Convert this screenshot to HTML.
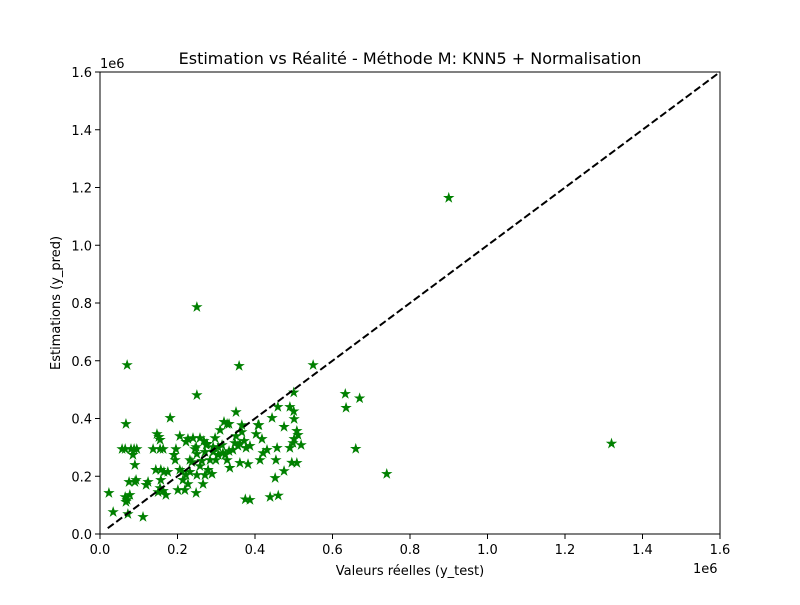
<!DOCTYPE html>
<html><head><meta charset="utf-8"><style>
html,body{margin:0;padding:0;background:#fff;}
svg text{font-family:"DejaVu Sans","Liberation Sans",sans-serif;fill:#000;}
</style></head><body>
<svg id="chart" width="800" height="600" xmlns="http://www.w3.org/2000/svg">
<rect width="800" height="600" fill="#fff"/>
<text x="410" y="64" font-size="16" text-anchor="middle">Estimation vs Réalité - Méthode M: KNN5 + Normalisation</text>
<g id="grid"></g>
<g id="marks"></g>
<rect x="100" y="72" width="620" height="462" fill="none" stroke="#000" stroke-width="1"/>
<text x="100" y="68" font-size="13">1e6</text>
<text x="693" y="573" font-size="13">1e6</text>
<text x="410" y="575" font-size="13" text-anchor="middle">Valeurs réelles (y_test)</text>
<text x="0" y="0" font-size="13" text-anchor="middle" transform="translate(60,303) rotate(-90)">Estimations (y_pred)</text>
</svg>
<script>
const tickValues = [0, 200000, 400000, 600000, 800000, 1000000, 1200000, 1400000, 1600000];
const tickLabels = ["0.0","0.2","0.4","0.6","0.8","1.0","1.2","1.4","1.6"];
const lineMin = 20000, lineMax = 1600000;
const yTest = [23,34,65,70,67,72,77,65,67,70,57,80,88,85,95,93,90,111,75,90,119,124,137,147,152,155,155,163,144,157,150,155,163,157,170,165,175,181,191,194,196,206,201,219,227,206,212,214,222,232,237,222,227,232,245,240,250,248,250,258,263,266,271,279,284,271,274,292,292,297,250,250,248,258,268,276,289,299,305,305,310,320,328,333,315,317,323,328,333,335,343,348,351,351,359,356,361,366,361,366,372,377,382,387,387,403,408,410,418,413,421,431,439,444,452,454,475,475,490,490,498,501,511,508,501,508,519,457,459,550,633,635,660,670,740,900,1320,495,500,500,375,460].map(v=>v*1000);
const yPred = [142,76,128,118,111,69,135,294,381,585,294,294,294,274,294,187,239,59,180,180,170,180,294,346,336,294,326,294,222,222,145,159,149,187,135,215,215,402,274,256,294,339,152,152,173,222,215,187,204,215,249,319,329,256,294,332,277,301,204,235,253,173,204,222,256,284,308,284,301,332,481,786,142,332,322,312,208,256,274,301,360,388,381,287,308,280,274,256,381,229,291,315,339,422,582,305,312,353,246,377,322,298,242,305,118,346,377,377,329,256,280,291,128,402,194,256,218,371,440,298,315,329,343,357,398,246,308,298,440,585,485,437,295,470,208,1164,313,247,425,490,120,133].map(v=>v*1000);
const NS="http://www.w3.org/2000/svg";
const X0=100,X1=720,Y0=534,Y1=72,MAX=1600000;
const sx=v=>X0+(v/MAX)*(X1-X0);
const sy=v=>Y0-(v/MAX)*(Y0-Y1);
const grid=document.getElementById('grid'), marks=document.getElementById('marks');
tickValues.forEach((t,i)=>{
  let l=document.createElementNS(NS,'line');
  
  
  l.setAttribute('x1',sx(t));l.setAttribute('x2',sx(t));l.setAttribute('y1',Y0);l.setAttribute('y2',Y0+5);l.setAttribute('stroke','#000');
  grid.appendChild(l);
  let tx=document.createElementNS(NS,'text');
  
  
  tx.setAttribute('x',sx(t));tx.setAttribute('y',Y0+20);tx.setAttribute('font-size','13');tx.setAttribute('text-anchor','middle');
  tx.textContent=tickLabels[i];grid.appendChild(tx);
  let m=document.createElementNS(NS,'line');
  
  
  m.setAttribute('x1',X0-5);m.setAttribute('x2',X0);m.setAttribute('y1',sy(t));m.setAttribute('y2',sy(t));m.setAttribute('stroke','#000');
  grid.appendChild(m);
  let ty=document.createElementNS(NS,'text');
  
  
  ty.setAttribute('x',X0-8);ty.setAttribute('y',sy(t)+5);ty.setAttribute('font-size','13');ty.setAttribute('text-anchor','end');
  ty.textContent=tickLabels[i];grid.appendChild(ty);
});
function starPath(cx,cy,R){
  const r=R*0.382;let d='';
  for(let k=0;k<10;k++){const a=-Math.PI/2+k*Math.PI/5;const rr=k%2?r:R;d+=(k?'L':'M')+(cx+rr*Math.cos(a)).toFixed(2)+','+(cy+rr*Math.sin(a)).toFixed(2);}
  return d+'Z';
}
yTest.forEach((v,i)=>{
  const p=document.createElementNS(NS,'path');
  
  
  p.setAttribute('d',starPath(sx(v),sy(yPred[i]),5));
  p.setAttribute('fill','#008000');p.setAttribute('stroke','#008000');p.setAttribute('stroke-width','0.6');
  marks.appendChild(p);
});
const dl=document.createElementNS(NS,'line');


dl.setAttribute('x1',sx(lineMin));dl.setAttribute('y1',sy(lineMin));dl.setAttribute('x2',sx(lineMax));dl.setAttribute('y2',sy(lineMax));
dl.setAttribute('stroke','#000');dl.setAttribute('stroke-width','2');dl.setAttribute('stroke-dasharray','7.4,3.2');
marks.appendChild(dl);
</script>
</body></html>
